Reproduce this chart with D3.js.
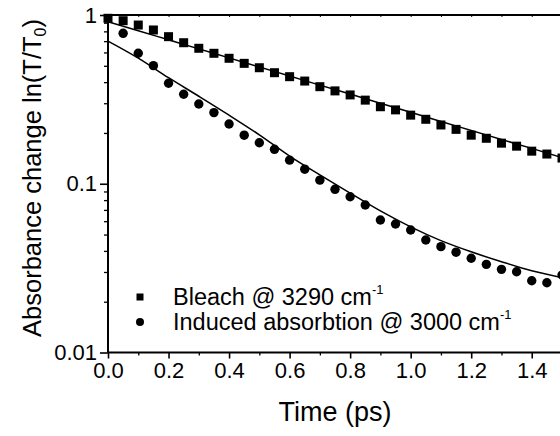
<!DOCTYPE html>
<html>
<head>
<meta charset="utf-8">
<script src="https://cdn.jsdelivr.net/npm/d3@7"></script>
<style>
  html, body { margin: 0; padding: 0; background: #fff; }
  svg { display: block; }
  text { font-family: "Liberation Sans", Arial, sans-serif; fill: #000; }
</style>
</head>
<body>
<svg id="chart" width="560" height="436"></svg>
<script>
// ---- data ----
const bleachT = [0, 0.05, 0.10, 0.15, 0.20, 0.25, 0.30, 0.35, 0.40, 0.45, 0.50, 0.55,
                 0.60, 0.65, 0.70, 0.75, 0.80, 0.85, 0.90, 0.95, 1.00, 1.05, 1.10, 1.15,
                 1.20, 1.25, 1.30, 1.35, 1.40, 1.45, 1.50];
const bleachV = [0.956, 0.925, 0.872, 0.815, 0.744, 0.685, 0.635, 0.593, 0.554, 0.517, 0.487, 0.455,
                 0.431, 0.406, 0.376, 0.355, 0.336, 0.313, 0.286, 0.274, 0.255, 0.241, 0.223, 0.210,
                 0.194, 0.186, 0.174, 0.167, 0.156, 0.150, 0.142];
const inducedT = [0.05, 0.10, 0.15, 0.20, 0.25, 0.30, 0.35, 0.40, 0.45, 0.50, 0.55,
                  0.60, 0.65, 0.70, 0.75, 0.80, 0.85, 0.90, 0.95, 1.00, 1.05, 1.10, 1.15,
                  1.20, 1.25, 1.30, 1.35, 1.40, 1.45, 1.50];
const inducedV = [0.779, 0.593, 0.501, 0.394, 0.339, 0.297, 0.264, 0.226, 0.194, 0.175, 0.160,
                  0.138, 0.122, 0.105, 0.0927, 0.0838, 0.0748, 0.0610, 0.0577, 0.0532, 0.0464, 0.0424, 0.0393,
                  0.0362, 0.0333, 0.0311, 0.0301, 0.0266, 0.0259, 0.0288];
const fitT = [0, 0.1, 0.2, 0.3, 0.4, 0.5, 0.6, 0.7, 0.8, 0.9, 1.0, 1.1, 1.2, 1.3, 1.4, 1.5];
const bleachFit  = [0.913, 0.807, 0.713, 0.630, 0.557, 0.492, 0.435, 0.384, 0.340, 0.300, 0.265, 0.234, 0.207, 0.183, 0.162, 0.143];
const inducedFit = [0.700, 0.555, 0.425, 0.330, 0.255, 0.195, 0.146, 0.113, 0.088, 0.069, 0.0555, 0.0460, 0.0395, 0.0345, 0.0305, 0.0278];
const xTicks = [0.0, 0.2, 0.4, 0.6, 0.8, 1.0, 1.2, 1.4];
const xTickLabels = ["0.0", "0.2", "0.4", "0.6", "0.8", "1.0", "1.2", "1.4"];
const yTicks = [1, 0.1, 0.01];
const yTickLabels = ["1", "0.1", "0.01"];
const legendLabels = ["Bleach @ 3290 cm", "Induced absorbtion @ 3000 cm"];

// ---- layout ----
const svg = d3.select("#chart");
const L = 108, R = 562, T = 15, B = 352.5;
const x = d3.scaleLinear().domain([0, 1.5]).range([L, R]);
const y = d3.scaleLog().domain([0.01, 1]).range([B, T]);

const g = svg.append("g");

// minor ticks values
const xMinor = d3.range(0, 16).map(i => i * 0.1).filter(v => Math.round(v * 10) % 2 === 1);
const yMinor = [];
[0.01, 0.1].forEach(d => { for (let k = 2; k <= 9; k++) yMinor.push(d * k); });

// bottom axis
const xAxis = d3.axisBottom(x).tickValues(xTicks).tickFormat((d, i) => xTickLabels[i]).tickSize(6).tickPadding(4);
const gx = g.append("g").attr("transform", `translate(0,${B})`).call(xAxis);
gx.select(".domain").remove();
gx.selectAll(".tick line").attr("stroke", "#000").attr("stroke-width", 1.6);
gx.selectAll(".tick text").attr("font-size", 22).attr("font-family", "Liberation Sans, Arial, sans-serif");
g.append("g").attr("transform", `translate(0,${B})`)
  .call(d3.axisBottom(x).tickValues(xMinor).tickFormat("").tickSize(3))
  .call(s => s.select(".domain").remove())
  .selectAll("line").attr("stroke", "#000").attr("stroke-width", 1.3);

// left axis
const yAxis = d3.axisLeft(y).tickValues(yTicks).tickFormat((d, i) => yTickLabels[i]).tickSize(8).tickPadding(3);
const gy = g.append("g").attr("transform", `translate(${L},0)`).call(yAxis);
gy.select(".domain").remove();
gy.selectAll(".tick line").attr("stroke", "#000").attr("stroke-width", 1.6);
gy.selectAll(".tick text").attr("font-size", 22).attr("font-family", "Liberation Sans, Arial, sans-serif");
g.append("g").attr("transform", `translate(${L},0)`)
  .call(d3.axisLeft(y).tickValues(yMinor).tickFormat("").tickSize(4))
  .call(s => s.select(".domain").remove())
  .selectAll("line").attr("stroke", "#000").attr("stroke-width", 1.3);

// top axis inner minor ticks
g.append("g").attr("transform", `translate(0,${T})`)
  .call(d3.axisBottom(x).tickValues(xTicks.concat(xMinor)).tickFormat("").tickSize(2))
  .call(s => s.select(".domain").remove())
  .selectAll("line").attr("stroke", "#000").attr("stroke-width", 1);

// frame lines
g.append("line").attr("x1", L).attr("x2", R).attr("y1", B).attr("y2", B).attr("stroke", "#000").attr("stroke-width", 2);
g.append("line").attr("x1", L).attr("x2", R).attr("y1", T).attr("y2", T).attr("stroke", "#000").attr("stroke-width", 2.2);
g.append("line").attr("x1", L).attr("x2", L).attr("y1", T).attr("y2", B).attr("stroke", "#000").attr("stroke-width", 2);

// fit lines
const line = d3.line().x(d => x(d[0])).y(d => y(d[1])).curve(d3.curveMonotoneX);
g.append("path").datum(fitT.map((t, i) => [t, bleachFit[i]]))
  .attr("d", line).attr("fill", "none").attr("stroke", "#000").attr("stroke-width", 1.5);
g.append("path").datum(fitT.map((t, i) => [t, inducedFit[i]]))
  .attr("d", line).attr("fill", "none").attr("stroke", "#000").attr("stroke-width", 1.5);

// markers
const sq = 9;
g.selectAll("rect.b").data(bleachT.map((t, i) => [t, bleachV[i]])).enter()
  .append("rect").attr("class", "b")
  .attr("x", d => x(d[0]) - sq / 2).attr("y", d => y(d[1]) - sq / 2)
  .attr("width", sq).attr("height", sq).attr("fill", "#000");
g.selectAll("circle.i").data(inducedT.map((t, i) => [t, inducedV[i]])).enter()
  .append("circle").attr("class", "i")
  .attr("cx", d => x(d[0])).attr("cy", d => y(d[1])).attr("r", 4.7).attr("fill", "#000");

// legend
const lg = g.append("g");
lg.append("rect").attr("x", 140 - 3.5).attr("y", 297 - 3.5).attr("width", 7).attr("height", 7).attr("fill", "#000");
lg.append("circle").attr("cx", 140).attr("cy", 322).attr("r", 4).attr("fill", "#000");
legendLabels.forEach((lab, i) => {
  const t = lg.append("text").attr("x", 173).attr("y", 305 + i * 25).attr("font-size", 23.5);
  t.append("tspan").text(lab);
  t.append("tspan").attr("font-size", 13).attr("dy", -11).text("-1");
});

// axis titles
svg.append("text").attr("x", (L + R) / 2).attr("y", 421).attr("text-anchor", "middle")
  .attr("font-size", 27).text("Time (ps)");
const yt = svg.append("text").attr("transform", `translate(41,178) rotate(-90)`)
  .attr("text-anchor", "middle").attr("font-size", 25.5);
yt.append("tspan").text("Absorbance change ln(T/T");
yt.append("tspan").attr("font-size", 16).attr("dy", 5).text("0");
yt.append("tspan").attr("dy", -5).text(")");
</script>
</body>
</html>
